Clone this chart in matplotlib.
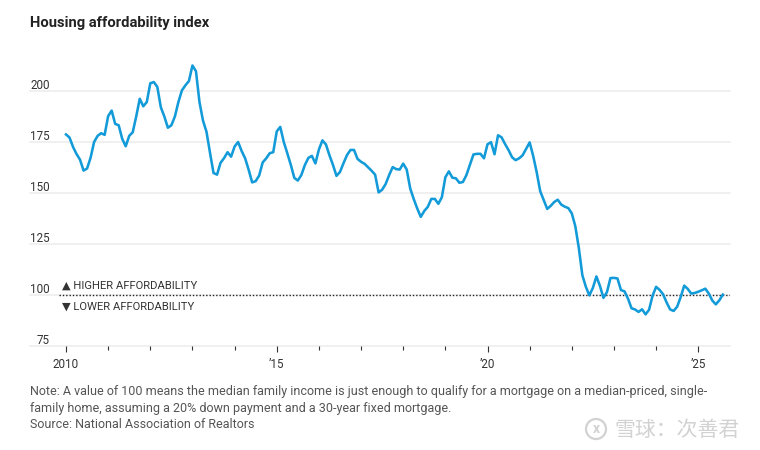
import numpy as np
import matplotlib
matplotlib.use('Agg')
import matplotlib.pyplot as plt
from matplotlib.patches import Ellipse

# monthly index values, Jan 2010 onwards
index_values = [
    178.7, 177.2, 172.6, 169.1, 166.3, 161.0, 162.0, 167.3, 175.0, 178.0, 179.3, 178.5,  # 2010
    187.7, 190.4, 183.9, 183.2, 176.6, 172.9, 178.0, 179.8, 187.6, 196.2, 192.5, 194.6,  # 2011
    203.8, 204.4, 202.0, 192.0, 187.5, 182.0, 183.2, 187.5, 194.6, 200.3, 202.8, 204.9,  # 2012
    212.5, 209.7, 194.6, 185.5, 180.0, 169.7, 159.8, 159.0, 164.8, 167.1, 170.0, 167.8,  # 2013
    172.8, 175.0, 170.6, 167.0, 161.4, 155.2, 155.8, 158.6, 165.0, 167.0, 169.5, 170.0,  # 2014
    180.2, 182.4, 175.0, 169.5, 163.8, 157.4, 156.1, 158.8, 163.7, 167.2, 168.2, 164.5,  # 2015
    171.3, 175.8, 173.8, 168.5, 163.8, 158.4, 160.3, 164.6, 168.6, 171.1, 171.1, 166.7,  # 2016
    165.3, 164.3, 162.6, 160.9, 159.0, 150.3, 151.6, 154.4, 158.8, 162.7, 161.7, 161.5,  # 2017
    164.4, 161.5, 152.2, 147.0, 142.4, 138.3, 141.2, 143.2, 147.1, 147.1, 144.7, 147.9,  # 2018
    157.7, 160.6, 157.5, 157.2, 155.0, 155.4, 158.8, 163.9, 168.9, 169.2, 169.2, 167.0,  # 2019
    173.9, 174.9, 169.0, 178.3, 177.3, 174.0, 171.0, 167.5, 166.1, 167.0, 168.5, 171.6,  # 2020
    174.8, 168.2, 160.2, 150.9, 146.5, 142.2, 143.7, 145.6, 146.7, 144.3, 143.3, 142.6,  # 2021
    140.0, 133.7, 123.0, 109.7, 104.0, 99.8, 103.5, 109.1, 104.5, 98.6, 101.4, 108.3,    # 2022
    108.4, 108.1, 102.4, 101.8, 98.2, 93.5, 92.9, 91.7, 93.0, 90.5, 92.8, 99.7,          # 2023
    104.0, 102.5, 100.3, 96.3, 92.9, 92.2, 94.3, 99.0, 104.6, 103.0, 100.7, 101.0,       # 2024
    101.6, 102.3, 103.1, 100.7, 97.3, 95.4, 97.4, 100.2,                                  # 2025
]
start_year = 2010

y_ticks = [75, 100, 125, 150, 175, 200]
x_major = [2010, 2015, 2020, 2025]
x_labels = ['2010', '\u201915', '\u201920', '\u201925']
x_minor = list(range(2010, 2026))

threshold = 100
note_lines = [
    "Note: A value of 100 means the median family income is just enough to qualify for a mortgage on a median-priced, single-",
    "family home, assuming a 20% down payment and a 30-year fixed mortgage.",
    "Source: National Association of Realtors",
]

plt.rcParams['font.family'] = ['Roboto', 'DejaVu Sans']

W, H = 760, 450
fig = plt.figure(figsize=(W / 100, H / 100), dpi=100)
ax = fig.add_axes([30 / W, (H - 346) / H, 700 / W, 285.6 / H])

years = start_year + np.arange(len(index_values)) / 12.0

ax.set_xlim(2009.146, 2025.753)
ax.set_ylim(75, 215)

for s in ax.spines.values():
    s.set_visible(False)

# gridlines + labels sitting above them
for t in y_ticks:
    ax.axhline(t, color='#ececec', lw=1.1, zorder=1, clip_on=False)
    ax.text(0.0286, t + 1.2, str(t), transform=ax.get_yaxis_transform(),
            ha='right', va='baseline', fontsize=8.4, color='#333333')
ax.set_yticks([])

# 100 reference line
ax.axhline(threshold, xmin=29 / 700, xmax=1, color='#222222', lw=1.0,
           linestyle=(0, (1, 1.4)), zorder=2)
ax.text(2009.905, 103.0, '\u25b2 HIGHER AFFORDABILITY', fontsize=8.1,
        color='#333333', va='baseline', ha='left')
ax.text(2009.905, 92.9, '\u25bc LOWER AFFORDABILITY', fontsize=8.1,
        color='#333333', va='baseline', ha='left')

ax.plot(years, index_values, color='#129bd8', lw=1.85, zorder=3,
        solid_joinstyle='round')

ax.set_xticks(x_major)
ax.set_xticklabels(x_labels)
ax.set_xticks(x_minor, minor=True)
ax.tick_params(axis='x', which='major', length=4.3, width=0.8, color='#333333',
               labelsize=8.4, labelcolor='#333333', pad=4.0)
ax.tick_params(axis='x', which='minor', length=2.6, width=0.8, color='#333333')

fig.text(30 / W, 1 - 26.7 / H, 'Housing affordability index', fontsize=10.6,
         fontweight='bold', color='#222222', va='baseline', ha='left')

for line, base in zip(note_lines, [395, 411.7, 428.3]):
    fig.text(30 / W, 1 - base / H, line, fontsize=9, color='#555555',
             va='baseline', ha='left')

# watermark (logo ring + text)
fig.patches.append(Ellipse((596 / W, 1 - 429 / H), 20 / W, 20 / H,
                           transform=fig.transFigure, fill=False,
                           edgecolor='#d2d2d2', lw=1.6))
fig.text(596 / W, 1 - 429 / H, 'x', fontsize=10, color='#d2d2d2',
         ha='center', va='center', fontweight='bold')
fig.text(740 / W, 1 - 436 / H, '雪球：次善君', fontsize=15, color='#d2d2d2',
         ha='right', va='baseline', family=['Noto Sans CJK SC', 'DejaVu Sans'])

fig.savefig('out.png', dpi=100)
